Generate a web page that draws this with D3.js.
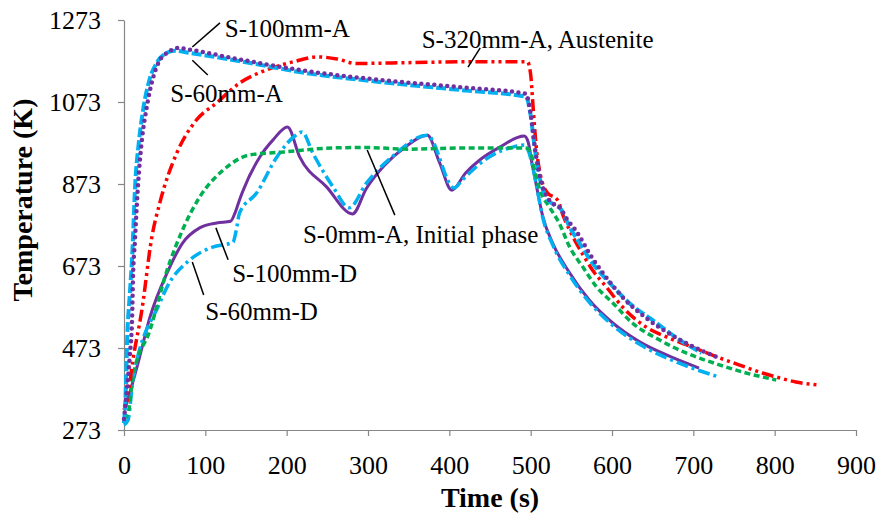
<!DOCTYPE html>
<html lang="en">
<head>
  <meta charset="utf-8" />
  <title>Temperature history</title>
  <script src="https://cdn.jsdelivr.net/npm/d3@7"></script>
  <style>
body{ margin:0; background:#fff; }
  </style>
</head>
<body>
  <svg id="chart" width="877" height="516"></svg>
  <script>
  // [time s, temperature K]
  const s100mmA = [[0,300],[4,380],[7,451],[10,549],[11,639],[13.5,736],[17,863],[22,980],[28,1061],[36,1134],[44,1175],[54,1194],[66,1205],[77,1202],[134,1180],[216,1151],[314,1127],[420,1108],[494,1093],[500,1045],[505,965],[512,885],[520,842],[528,825],[536,815],[545,786],[554,764],[576,692],[595,640],[613,597],[642,546],[667,512],[691,485],[728,452]];
  const s60mmA = [[0,290],[2,360],[4,500],[7,600],[10,695],[14,880],[18,970],[24,1060],[31,1125],[40,1168],[50,1190],[62,1198],[80,1193],[150,1170],[216,1146],[314,1122],[420,1101],[494,1086],[500,1040],[505,960],[512,880],[519,841],[528,823],[537,812],[548,768],[560,729],[576,680],[597,632],[621,583],[650,541],[683,493],[710,461]];
  const s320mmA = [[0,322],[4,346],[11,444],[22,566],[34,741],[44,827],[65,949],[89,1029],[114,1071],[142,1119],[175,1151],[210,1172],[238,1183],[262,1178],[285,1167],[350,1169],[420,1171],[496,1171],[500,1140],[503,1060],[507,960],[512,895],[520,853],[533,834],[540,795],[548,760],[556,729],[566,695],[576,663],[593,622],[613,573],[642,524],[667,500],[699,475],[732,449],[756,432],[785,412],[806,400],[826,390],[852,383]];
  const s0mmA = [[0,300],[5,314],[11,402],[32,517],[53,663],[72,761],[93,841],[122,907],[155,944],[196,951],[257,961],[298,962],[350,958],[420,961],[494,961],[500,950],[505,905],[512,855],[523,817],[535,778],[548,719],[564,671],[581,622],[601,583],[625,534],[658,493],[691,461],[732,432],[765,412],[802,395]];
  const s100mmD = [[0,330],[4,346],[16,427],[32,549],[53,656],[72,729],[93,766],[114,778],[131,782],[137,805],[142,834],[146,855],[167,939],[183,980],[201,1012],[216,939],[249,866],[281,800],[298,862],[320,918],[345,962],[373,992],[388,925],[403,858],[420,900],[437,931],[462,963],[492,990],[497,975],[501,930],[505,890],[515,793],[527,729],[548,656],[572,590],[601,534],[634,488],[667,456],[707,424]];
  const s60mmD = [[0,285],[5,297],[11,395],[44,583],[53,622],[81,688],[109,719],[134,731],[138,760],[142,802],[163,851],[188,939],[210,990],[219,1000],[232,949],[257,866],[277,815],[298,875],[330,940],[373,992],[406,863],[416,883],[449,939],[478,963],[492,968],[497,955],[502,920],[508,860],[515,790],[527,725],[548,650],[572,585],[601,528],[634,482],[667,449],[700,423],[732,402]];

  const xTicks = [0,100,200,300,400,500,600,700,800,900];
  const yTicks = [273,473,673,873,1073,1273];

  // text + leader line, anchored in data units
  const notes = [
    {text:'S-100mm-A',              at:[124,1232], from:[118,1266], to:[84,1207]},
    {text:'S-60mm-A',               at:[57,1073],  from:[84,1175],  to:[103,1139]},
    {text:'S-320mm-A, Austenite',   at:[366,1205], from:[438,1205], to:[423,1158]},
    {text:'S-0mm-A, Initial phase', at:[220,729],  from:[299,956],  to:[333,797]},
    {text:'S-100mm-D',              at:[133,634],  from:[113,766],  to:[128,688]},
    {text:'S-60mm-D',               at:[100,541],  from:[84,683],   to:[98,602]}
  ];

  const series = [
    {data:s100mmD, color:'#7030a0', width:3,   dash:null},
    {data:s60mmD,  color:'#00b0f0', width:3.5, dash:'12 4 3 4'},
    {data:s0mmA,   color:'#00b050', width:3.5, dash:'6 3.5'},
    {data:s320mmA, color:'#ff0000', width:3.5, dash:'12 4 3 4 3 4'},
    {data:s60mmA,  color:'#00b0f0', width:4,   dash:'10 3'},
    {data:s100mmA, color:'#7030a0', width:4.5, dash:'0 6.5', cap:'round'}
  ];

  const serif = "'Liberation Serif', 'Times New Roman', Times, 'DejaVu Serif', serif";

  const svg = d3.select('#chart')
      .attr('font-family', serif);
  const x = d3.scaleLinear().domain([0,900]).range([124,856]);
  const y = d3.scaleLinear().domain([273,1273]).range([430,20]);

  const xAxis = svg.append('g')
      .attr('transform', 'translate(0,430)')
      .call(d3.axisBottom(x).tickValues(xTicks).tickFormat(d => d).tickSize(6).tickSizeOuter(0).tickPadding(20));
  const yAxis = svg.append('g')
      .attr('transform', 'translate(124,0)')
      .call(d3.axisLeft(y).tickValues(yTicks).tickFormat(d => d).tickSize(6).tickSizeOuter(0).tickPadding(17));

  [xAxis, yAxis].forEach(g => {
    g.attr('font-family', serif).attr('font-size', 26);
    g.select('.domain').attr('stroke', '#868686').attr('stroke-width', 1.2);
    g.selectAll('.tick line').attr('stroke', '#868686').attr('stroke-width', 1.2);
    g.selectAll('.tick text').attr('fill', '#000');
  });

  const line = d3.line()
      .x(d => x(d[0]))
      .y(d => y(d[1]))
      .curve(d3.curveMonotoneX);

  svg.append('g').selectAll('path')
    .data(series)
    .enter().append('path')
      .attr('d', d => line(d.data))
      .attr('fill', 'none')
      .attr('stroke', d => d.color)
      .attr('stroke-width', d => d.width)
      .attr('stroke-dasharray', d => d.dash)
      .attr('stroke-linecap', d => d.cap || 'butt');

  const note = svg.append('g').selectAll('g')
    .data(notes)
    .enter().append('g');

  note.append('line')
      .attr('x1', d => x(d.from[0])).attr('y1', d => y(d.from[1]))
      .attr('x2', d => x(d.to[0])).attr('y2', d => y(d.to[1]))
      .attr('stroke', '#000').attr('stroke-width', 1.5);

  note.append('text')
      .attr('x', d => x(d.at[0]))
      .attr('y', d => y(d.at[1]))
      .attr('font-size', 25)
      .text(d => d.text);

  svg.append('text')
      .attr('x', 490).attr('y', 507)
      .attr('text-anchor', 'middle')
      .attr('font-size', 28).attr('font-weight', 'bold')
      .text('Time (s)');

  svg.append('text')
      .attr('transform', 'translate(32,200) rotate(-90)')
      .attr('text-anchor', 'middle')
      .attr('font-size', 28).attr('font-weight', 'bold')
      .text('Temperature (K)');
  </script>
</body>
</html>
